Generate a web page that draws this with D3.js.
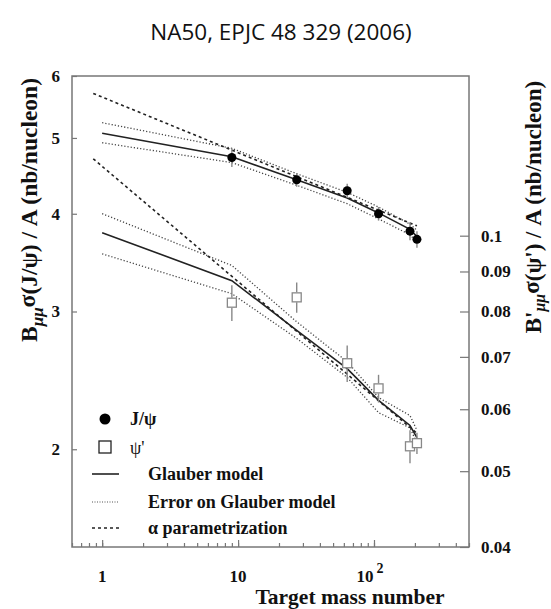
<!DOCTYPE html>
<html><head><meta charset="utf-8">
<script src="https://cdn.jsdelivr.net/npm/d3@7"></script>
<style>body{margin:0;background:#fff}svg{display:block}</style>
</head><body>
<script>
// ---- data ----
const targetA = [9, 27, 63.5, 108, 184, 207];
const jpsi = [4.72, 4.42, 4.28, 4.00, 3.80, 3.71];
const jpsiErr = [0.13, 0.09, 0.09, 0.08, 0.10, 0.09];
const psip = [0.0821, 0.0834, 0.0687, 0.0638, 0.0538, 0.0543];
const psipErr = [0.0043, 0.0037, 0.0037, 0.0026, 0.0026, 0.0017];

const modelA = [1, 9, 27, 63.5, 108, 184, 207];
const glauberJpsi = [5.07, 4.73, 4.42, 4.19, 4.01, 3.82, 3.74];
const glauberJpsiHi = [5.23, 4.85, 4.50, 4.26, 4.08, 3.88, 3.81];
const glauberJpsiLo = [4.93, 4.65, 4.35, 4.12, 3.94, 3.76, 3.68];
const glauberPsip = [0.1009, 0.0876, 0.0757, 0.0676, 0.0616, 0.0572, 0.0552];
const glauberPsipHi = [0.1067, 0.0916, 0.0776, 0.0690, 0.0621, 0.0589, 0.0564];
const glauberPsipLo = [0.0948, 0.0843, 0.0739, 0.0659, 0.0594, 0.0568, 0.0543];

const alphaA = [0.86, 207];
const alphaJpsi = [5.70, 3.86];
const alphaPsip = [0.1254, 0.0559];

const xTicks = [1, 10, 100];
const yLeftTicks = [2, 3, 4, 5, 6];
const yRightTicks = [0.04, 0.05, 0.06, 0.07, 0.08, 0.09, 0.1];

// ---- layout ----
const W = 551, H = 609;
const L = 72, R = 469, T = 76, B = 547;
const serif = "'Liberation Serif','DejaVu Serif',serif";

const svg = d3.select("body").append("svg").attr("width", W).attr("height", H);

const x = d3.scaleLog().domain([0.6, 500]).range([L, R]);
const yL = d3.scaleLog().domain([1.5, 6]).range([B, T]);
const yR = d3.scaleLog().domain([0.04, 0.16]).range([B, T]);

// title
svg.append("text").attr("x", 281).attr("y", 40).attr("text-anchor", "middle")
  .attr("font-family", "'Open Sans','Noto Sans',sans-serif").attr("font-size", 22.5)
  .attr("fill", "#111").text("NA50, EPJC 48 329 (2006)");

// frame
const axisColor = "#777";
svg.append("rect").attr("x", L).attr("y", T).attr("width", R - L).attr("height", B - T)
  .attr("fill", "none").attr("stroke", axisColor).attr("stroke-width", 1.5);

// x axis ticks (inward)
const xMinor = [];
for (let e = -1; e <= 2; e++) for (let m = 1; m < 10; m++) {
  const v = m * Math.pow(10, e);
  if (v >= 0.6 && v <= 500) xMinor.push(v);
}
const gx = svg.append("g").attr("transform", `translate(0,${B})`);
gx.call(d3.axisBottom(x).tickValues(xMinor).tickSize(-4).tickFormat(""));
gx.append("g").call(d3.axisBottom(x).tickValues(xTicks).tickSize(-7).tickFormat(""));
gx.selectAll(".domain").remove();
gx.selectAll("line").attr("stroke", axisColor).attr("stroke-width", 1.2);

const xl = svg.append("g").attr("font-family", serif).attr("font-weight", "bold")
  .attr("font-size", 17).attr("fill", "#111");
xTicks.forEach(v => {
  if (v === 100) {
    const t = xl.append("text").attr("x", x(v) - 4).attr("y", 582).attr("text-anchor", "middle");
    t.append("tspan").text("10");
    t.append("tspan").attr("dy", -9).attr("font-size", 14).attr("dx", 3).text("2");
  } else {
    xl.append("text").attr("x", x(v)).attr("y", 582).attr("text-anchor", "middle").text(d3.format("d")(v));
  }
});
svg.append("text").attr("x", 350).attr("y", 604).attr("text-anchor", "middle")
  .attr("font-family", serif).attr("font-weight", "bold").attr("font-size", 21.5)
  .attr("fill", "#111").text("Target mass number");

// left axis
const gyl = svg.append("g").attr("transform", `translate(${L},0)`)
  .call(d3.axisLeft(yL).tickValues(yLeftTicks).tickSize(-5).tickPadding(12).tickFormat(d3.format("d")));
gyl.selectAll(".domain").remove();
gyl.selectAll("line").attr("stroke", axisColor).attr("stroke-width", 1.2);
gyl.selectAll("text").attr("font-family", serif).attr("font-weight", "bold")
  .attr("font-size", 17).attr("fill", "#111").attr("x", -12);

// right axis
const gyr = svg.append("g").attr("transform", `translate(${R},0)`)
  .call(d3.axisRight(yR).tickValues(yRightTicks).tickSize(-9).tickPadding(12)
    .tickFormat(d => d3.format("~g")(d)));
gyr.selectAll(".domain").remove();
gyr.selectAll("line").attr("stroke", axisColor).attr("stroke-width", 1.2);
gyr.selectAll("text").attr("font-family", serif).attr("font-weight", "bold")
  .attr("font-size", 17).attr("fill", "#111").attr("x", 12);

// axis titles
const lt = svg.append("text").attr("transform", "translate(37,210) rotate(-90)")
  .attr("text-anchor", "middle").attr("font-family", serif).attr("font-weight", "bold")
  .attr("font-size", 23.5).attr("fill", "#111");
lt.append("tspan").text("B");
lt.append("tspan").attr("dy", 6).attr("font-size", 17).attr("font-style", "italic").text("μμ");
lt.append("tspan").attr("dy", -8).text("σ");
lt.append("tspan").attr("dy", 2).text("(J/ψ) / A (nb/nucleon)");

const rt = svg.append("text").attr("transform", "translate(541,207) rotate(-90)")
  .attr("text-anchor", "middle").attr("font-family", serif).attr("font-weight", "bold")
  .attr("font-size", 23).attr("fill", "#111");
rt.append("tspan").text("B'");
rt.append("tspan").attr("dy", 4).attr("font-size", 16).attr("font-style", "italic").text("μμ");
rt.append("tspan").attr("dy", -6).text("σ");
rt.append("tspan").attr("dy", 2).text("(ψ') / A (nb/nucleon)");

// curves
const plot = svg.append("g");
function curve(xs, ys, yScale, style) {
  const line = d3.line().x(d => x(d[0])).y(d => yScale(d[1]));
  const p = plot.append("path").datum(xs.map((v, i) => [v, ys[i]]))
    .attr("d", line).attr("fill", "none").attr("stroke", "#222");
  if (style === "solid") p.attr("stroke-width", 1.6);
  if (style === "dotted") p.attr("stroke-width", 1.3).attr("stroke-dasharray", "1.2,2").attr("stroke", "#444");
  if (style === "dashed") p.attr("stroke-width", 1.6).attr("stroke-dasharray", "3,3");
}
curve(modelA, glauberJpsiHi, yL, "dotted");
curve(modelA, glauberJpsiLo, yL, "dotted");
curve(modelA, glauberJpsi, yL, "solid");
curve(alphaA, alphaJpsi, yL, "dashed");
curve(modelA, glauberPsipHi, yR, "dotted");
curve(modelA, glauberPsipLo, yR, "dotted");
curve(modelA, glauberPsip, yR, "solid");
curve(alphaA, alphaPsip, yR, "dashed");

// J/psi points
targetA.forEach((a, i) => {
  plot.append("line").attr("x1", x(a)).attr("x2", x(a))
    .attr("y1", yL(jpsi[i] + jpsiErr[i])).attr("y2", yL(jpsi[i] - jpsiErr[i]))
    .attr("stroke", "#888").attr("stroke-width", 1.4);
  plot.append("circle").attr("cx", x(a)).attr("cy", yL(jpsi[i])).attr("r", 4.5).attr("fill", "#000");
});
// psi' points
targetA.forEach((a, i) => {
  const cy = yR(psip[i]);
  plot.append("line").attr("x1", x(a)).attr("x2", x(a))
    .attr("y1", yR(psip[i] + psipErr[i])).attr("y2", cy - 5)
    .attr("stroke", "#888").attr("stroke-width", 1.4);
  plot.append("line").attr("x1", x(a)).attr("x2", x(a))
    .attr("y1", cy + 5).attr("y2", yR(psip[i] - psipErr[i]))
    .attr("stroke", "#888").attr("stroke-width", 1.4);
  plot.append("rect").attr("x", x(a) - 4.5).attr("y", cy - 4.5).attr("width", 9).attr("height", 9)
    .attr("fill", "#fff").attr("stroke", "#888").attr("stroke-width", 1.3);
});

// legend
const lg = svg.append("g").attr("font-family", serif).attr("font-weight", "bold")
  .attr("font-size", 18).attr("fill", "#111");
lg.append("circle").attr("cx", 105).attr("cy", 419).attr("r", 5.5).attr("fill", "#000");
lg.append("text").attr("x", 130).attr("y", 425).text("J/ψ");
lg.append("rect").attr("x", 99).attr("y", 441).attr("width", 12).attr("height", 12)
  .attr("fill", "#fff").attr("stroke", "#222").attr("stroke-width", 1.3);
lg.append("text").attr("x", 130).attr("y", 454).attr("font-weight", "normal").text("ψ'");
const legLines = [
  [474, "solid", "Glauber model"],
  [502, "dotted", "Error on Glauber model"],
  [528, "dashed", "α parametrization"]
];
legLines.forEach(([yy, st, label]) => {
  const l = lg.append("line").attr("x1", 92).attr("x2", 119).attr("y1", yy).attr("y2", yy)
    .attr("stroke", "#222");
  if (st === "solid") l.attr("stroke-width", 1.6);
  if (st === "dotted") l.attr("stroke-width", 1.2).attr("stroke-dasharray", "1,1.5").attr("stroke", "#555");
  if (st === "dashed") l.attr("stroke-width", 1.5).attr("stroke-dasharray", "3,3");
  lg.append("text").attr("x", 148).attr("y", yy + 6).text(label);
});
</script>
</body></html>
